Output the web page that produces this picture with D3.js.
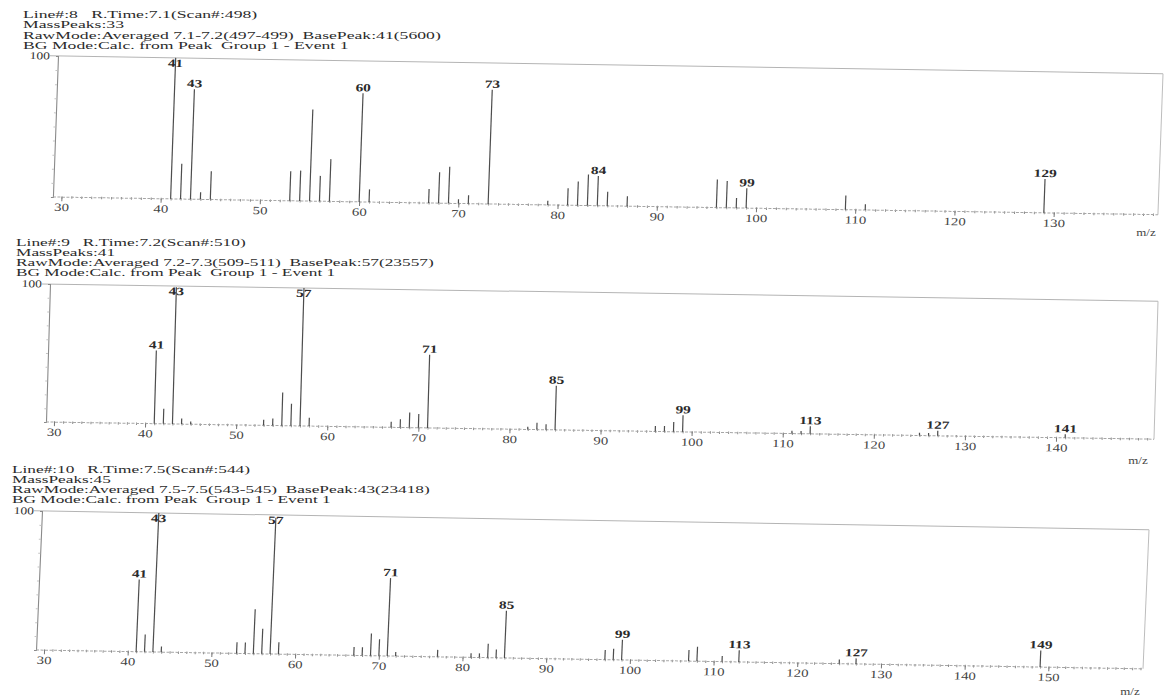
<!DOCTYPE html>
<html><head><meta charset="utf-8">
<script src="https://cdn.jsdelivr.net/npm/d3@7"></script>
<style>
html,body{margin:0;padding:0;background:#fff;}
svg{display:block;}
text{white-space:pre;}
</style></head><body>
<svg id="chart" width="1165" height="700"></svg>
<script>
// ---------- DATA ----------
// Panel 1 (Line#8)
const header1 = ["Line#:8   R.Time:7.1(Scan#:498)", "MassPeaks:33",
  "RawMode:Averaged 7.1-7.2(497-499)  BasePeak:41(5600)", "BG Mode:Calc. from Peak  Group 1 - Event 1"];
const mz1  = [41,42,43,44,45,53,54,55,56,57,60,61,67,68,69,70,71,73,79,81,82,83,84,85,87,96,97,98,99,109,111,129];
const int1 = [100,25,78,5,20,21,21.5,65,18,30,77,9,10,22,26,3,6,81,3,12,17,22,21,10,7,20,19,7,14,10,4,24];
const labels1 = [41,43,60,73,84,99,129];
const ticks1 = [30,40,50,60,70,80,90,100,110,120,130];
const domain1 = [29.14, 140.5];

// Panel 2 (Line#9)
const header2 = ["Line#:9   R.Time:7.2(Scan#:510)", "MassPeaks:41",
  "RawMode:Averaged 7.2-7.3(509-511)  BasePeak:57(23557)", "BG Mode:Calc. from Peak  Group 1 - Event 1"];
const mz2  = [41,42,43,44,45,53,54,55,56,57,58,67,68,69,70,71,82,83,84,85,96,97,98,99,111,112,113,125,126,127,141];
const int2 = [53,11,99,4,2,4,5,24,16,100,6,4,6,11,10,53,2,5,4,32,4,4,7,12,2,2,5.5,2,2,3.7,2.5];
const labels2 = [41,43,57,71,85,99,113,127,141];
const ticks2 = [30,40,50,60,70,80,90,100,110,120,130,140];
const domain2 = [29.12, 150.75];

// Panel 3 (Line#10)
const header3 = ["Line#:10   R.Time:7.5(Scan#:544)", "MassPeaks:45",
  "RawMode:Averaged 7.5-7.5(543-545)  BasePeak:43(23418)", "BG Mode:Calc. from Peak  Group 1 - Event 1"];
const mz3  = [41,42,43,44,53,54,55,56,57,58,67,68,69,70,71,72,77,81,82,83,84,85,97,98,99,107,108,111,113,125,127,149];
const int3 = [52,12.5,100,4,8,8,32,18,98,8.5,6,6,16,12,56,3,5,3,3,10,6,34,7,8,14.5,8,10.5,4,8.4,3,4,12];
const labels3 = [41,43,57,71,85,99,113,127,149];
const ticks3 = [30,40,50,60,70,80,90,100,110,120,130,140,150];
const domain3 = [29.04, 161.3];

// ---------- LAYOUT ----------
const panels = [
  {header: header1, mz: mz1, ints: int1, labels: labels1, ticks: ticks1, domain: domain1,
   L: 58, T: 56, R: 1163, B: 197, sx: -0.036, sy: 0.016,
   hx: 23, hy: [17.5, 28, 38.5, 48.5], mzPos: [1146, 236]},
  {header: header2, mz: mz2, ints: int2, labels: labels2, ticks: ticks2, domain: domain2,
   L: 50, T: 284, R: 1158, B: 422, sx: -0.029, sy: 0.0155,
   hx: 16, hy: [245.5, 255.5, 266, 276], mzPos: [1138, 464]},
  {header: header3, mz: mz3, ints: int3, labels: labels3, ticks: ticks3, domain: domain3,
   L: 42, T: 511, R: 1149, B: 650, sx: -0.043, sy: 0.017,
   hx: 12, hy: [472.5, 482.5, 493, 503], mzPos: [1130, 695]}
];

const svg = d3.select("#chart");
svg.append("rect").attr("width", 1165).attr("height", 700).attr("fill", "#ffffff");

const FONT = "'Liberation Serif', 'Times New Roman', serif";
const RAW_WIDTH = 418; // rendered width of the RawMode line

panels.forEach(p => {
  // header lines, uniformly stretched horizontally like the scan
  const hs = p.header.map((t, i) => svg.append("text")
      .attr("x", 0).attr("y", 0)
      .attr("xml:space", "preserve")
      .attr("font-family", FONT).attr("font-size", 11)
      .attr("fill", "#2b2b2b")
      .text(t));
  const k = RAW_WIDTH / hs[2].node().getComputedTextLength();
  hs.forEach((h, i) => h.attr("transform", `translate(${p.hx},${p.hy[i]}) scale(${k},1)`));

  const g = svg.append("g")
    .attr("transform", `translate(${p.L},${p.T}) matrix(1,${p.sy},${p.sx},1,0,0) translate(${-p.L},${-p.T})`);

  const x = d3.scaleLinear().domain(p.domain).range([p.L, p.R]);
  const y = d3.scaleLinear().domain([0, 100]).range([p.B, p.T]);

  // frame: top & right (light)
  g.append("line").attr("x1", p.L - 8).attr("x2", p.R).attr("y1", p.T).attr("y2", p.T)
    .attr("stroke", "#b4b4b4").attr("stroke-width", 1);
  g.append("line").attr("x1", p.R).attr("x2", p.R).attr("y1", p.T).attr("y2", p.B)
    .attr("stroke", "#bdbdbd").attr("stroke-width", 1);

  // left axis
  const yAxis = d3.axisLeft(y).tickValues(d3.range(10, 100, 10)).tickSize(2).tickFormat("");
  const ya = g.append("g").attr("transform", `translate(${p.L},0)`).call(yAxis);
  ya.select(".domain").attr("stroke", "#8a8a8a").attr("stroke-width", 1.1);
  ya.selectAll(".tick line").attr("stroke", "#c4c4c4");

  // "100" label
  g.append("text")
    .attr("transform", `translate(${p.L - 8},${p.T + 3.5}) scale(1.3,1)`)
    .attr("text-anchor", "end")
    .attr("font-family", FONT).attr("font-size", 10.5).attr("fill", "#333")
    .text("100");

  // baseline minor ticks
  const minor = d3.range(Math.ceil(p.domain[0]), Math.floor(p.domain[1]) + 1, 1);
  const xMinor = d3.axisBottom(x).tickValues(minor).tickSize(2.5).tickFormat("");
  const xm = g.append("g").attr("transform", `translate(0,${p.B - 1})`).call(xMinor);
  xm.select(".domain").remove();
  xm.selectAll(".tick line").attr("stroke", "#8c8c8c");

  // baseline
  g.append("line").attr("x1", p.L).attr("x2", p.R).attr("y1", p.B).attr("y2", p.B)
    .attr("stroke", "#a6a6a6").attr("stroke-width", 1).attr("stroke-dasharray", "3,1.5");

  // major ticks with labels
  const xAxis = d3.axisBottom(x).tickValues(p.ticks).tickSize(4).tickPadding(2)
    .tickFormat(d3.format("d"));
  const xa = g.append("g").attr("transform", `translate(0,${p.B})`).call(xAxis);
  xa.select(".domain").remove();
  xa.selectAll(".tick line").attr("stroke", "#777");
  xa.selectAll(".tick text")
    .attr("font-family", FONT).attr("font-size", 11).attr("fill", "#444")
    .attr("transform", "scale(1.35,1)");

  // spikes
  const peaks = p.mz.map((m, i) => ({m, v: p.ints[i]}));
  g.selectAll("line.spike").data(peaks).join("line")
    .attr("class", "spike")
    .attr("x1", d => x(d.m)).attr("x2", d => x(d.m))
    .attr("y1", p.B).attr("y2", d => y(d.v))
    .attr("stroke", "#4d4d4d").attr("stroke-width", 1.2);

  // peak labels
  const lab = p.labels.map(m => ({m, v: p.ints[p.mz.indexOf(m)]}));
  g.selectAll("text.plab").data(lab).join("text")
    .attr("class", "plab")
    .attr("transform", d => {
      const cy = Math.max(y(d.v) - 6, p.T + 5);
      return `translate(${x(d.m)},${cy + 4}) scale(1.4,1)`;
    })
    .attr("text-anchor", "middle")
    .attr("font-family", FONT).attr("font-size", 11).attr("font-weight", "bold")
    .attr("fill", "#2b2b2b")
    .text(d => d.m);

  // m/z label
  svg.append("text")
    .attr("transform", `translate(${p.mzPos[0]},${p.mzPos[1]}) scale(1.3,1)`)
    .attr("text-anchor", "middle")
    .attr("font-family", FONT).attr("font-size", 10).attr("fill", "#444")
    .text("m/z");
});
</script>
</body></html>
